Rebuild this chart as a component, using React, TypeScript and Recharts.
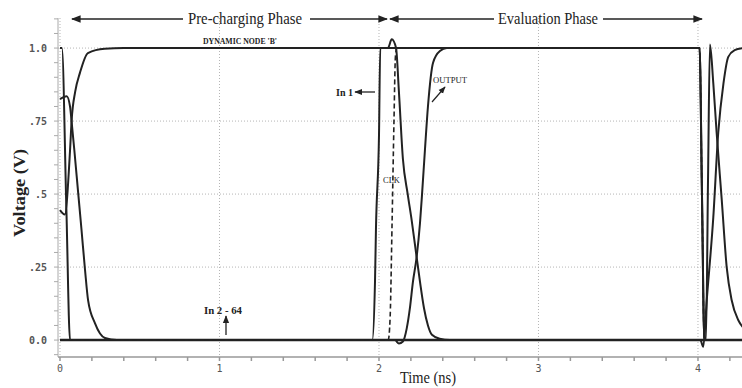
import { LineChart, Line, XAxis, YAxis, CartesianGrid } from "recharts";

// time (ns) and voltage (V)
const in1T = [0, 0.012, 0.04, 0.063, 1.958, 1.975, 1.981, 2.0, 2.008, 4.01, 4.025, 4.04, 4.28];
const in1V = [1.0, 1.0, 0.45, 0, 0, 0.2, 0.38, 0.7, 1.0, 1.0, 0.5, 0, 0];

const clkT = [0, 2.058, 2.07, 2.082, 2.094, 2.103, 2.112, 4.01, 4.025, 4.04, 4.28];
const clkV = [0, 0, 0.08, 0.4, 0.75, 0.97, 1.0, 1.0, 0.5, 0, 0];

const nodeT = [
  0, 0.03, 0.063, 0.073, 0.095, 0.125, 0.175, 0.28, 0.4, 2.056, 2.08, 2.107, 2.125, 2.15,
  2.18, 2.205, 2.232, 2.257, 2.282, 2.307, 2.332, 2.38, 2.445, 4.015, 4.033, 4.055, 4.096,
  4.127, 4.16, 4.19, 4.23, 4.28,
];
const nodeV = [
  0.445, 0.43, 0.65, 0.753, 0.85, 0.915, 0.983, 0.998, 1.0, 1.0, 1.03, 1.0, 0.85, 0.62,
  0.5, 0.41, 0.3, 0.2, 0.11, 0.05, 0.018, 0.005, 0, 0, -0.023, 0.137, 0.42, 0.71, 0.88,
  0.97, 0.993, 1.0,
];

const outT = [
  0, 0.042, 0.063, 0.075, 0.09, 0.113, 0.135, 0.157, 0.176, 0.219, 0.282, 0.357, 2.1, 2.125,
  2.15, 2.174, 2.194, 2.213, 2.236, 2.257, 2.27, 2.288, 2.307, 2.339, 2.382, 2.426, 4.01,
  4.025, 4.04, 4.05, 4.063, 4.075, 4.096, 4.117, 4.149, 4.18, 4.211, 4.253, 4.28,
];
const outV = [
  0.825, 0.835, 0.8, 0.735, 0.65, 0.51, 0.377, 0.24, 0.137, 0.058, 0.007, 0, 0, -0.012,
  -0.005, 0.04, 0.11, 0.2, 0.284, 0.4, 0.5, 0.65, 0.8, 0.95, 0.99, 1.0, 1.0, 0.5, 0, 0,
  0.55, 1.012, 0.88, 0.71, 0.48, 0.25, 0.137, 0.068, 0.045,
];

const restT = [0, 4.28];
const restV = [0, 0];

const xTicks = [0, 0.2, 0.4, 0.6, 0.8, 1, 1.2, 1.4, 1.6, 1.8, 2, 2.2, 2.4, 2.6, 2.8, 3, 3.2, 3.4, 3.6, 3.8, 4, 4.2];
const xLabels = [0, 1, 2, 3, 4];
const yTicks = [-0.05, 0, 0.05, 0.1, 0.15, 0.2, 0.25, 0.3, 0.35, 0.4, 0.45, 0.5, 0.55, 0.6, 0.65, 0.7, 0.75, 0.8, 0.85, 0.9, 0.95, 1, 1.05, 1.1];
const yLabels = [0, 0.25, 0.5, 0.75, 1];
const yLabelText = ["0.0", ".25", ".5", ".75", "1.0"];

const pts = (t: number[], v: number[]) => t.map((x, i) => ({ t: x, v: v[i] }));

const INK = "#222";
const SERIF = "'Liberation Serif', 'Times New Roman', serif";
const MONO = "'DejaVu Sans Mono', monospace";

function XTick(props: any) {
  const { x, y, payload } = props;
  if (!xLabels.includes(payload.value)) return <g />;
  return (
    <text x={x} y={y + 9} textAnchor="middle" fontSize={10} fontFamily={MONO} fill="#555">
      {payload.value}
    </text>
  );
}

function YTick(props: any) {
  const { x, y, payload } = props;
  const i = yLabels.indexOf(payload.value);
  if (i < 0) return <g />;
  return (
    <text x={x} y={y + 4} textAnchor="end" fontSize={10} fontWeight="bold" fontFamily={MONO} fill="#555">
      {yLabelText[i]}
    </text>
  );
}

export default function App() {
  const line = { type: "monotone" as const, dataKey: "v", dot: false, isAnimationActive: false, stroke: INK };
  return (
    <div style={{ position: "absolute", left: 0, top: 0, width: 742, height: 388, background: "#fff" }}>
      <LineChart width={742} height={388} margin={{ top: 18, right: 0, left: 0, bottom: 0 }}>
        <CartesianGrid
          stroke="#b5b5b5"
          strokeDasharray="1 2"
          horizontalValues={yLabels}
          verticalValues={xLabels}
        />
        <XAxis
          type="number"
          dataKey="t"
          domain={[-0.0125, 4.276]}
          ticks={xTicks}
          interval={0}
          allowDataOverflow
          height={31}
          tickSize={4}
          tickMargin={2}
          stroke="#999"
          strokeWidth={1.5}
          tick={<XTick />}
        />
        <YAxis
          type="number"
          domain={[-0.058, 1.103]}
          ticks={yTicks}
          interval={0}
          allowDataOverflow
          width={58}
          tickSize={4}
          tickMargin={7}
          stroke="#aaa"
          tick={<YTick />}
        />
        <Line {...line} data={pts(restT, restV)} strokeWidth={2.5} />
        <Line {...line} data={pts(in1T, in1V)} strokeWidth={2} />
        <Line {...line} data={pts(nodeT, nodeV)} strokeWidth={2} />
        <Line {...line} data={pts(outT, outV)} strokeWidth={2} />
        <Line {...line} data={pts(clkT, clkV)} strokeWidth={1.6} strokeDasharray="5 3" />
      </LineChart>

      <svg
        width={742}
        height={388}
        style={{ position: "absolute", left: 0, top: 0, pointerEvents: "none" }}
      >
        <defs>
          <marker id="ah" viewBox="0 0 10 10" refX="9" refY="5" markerWidth="6" markerHeight="6" orient="auto-start-reverse">
            <path d="M0,1 L10,5 L0,9 z" fill={INK} />
          </marker>
        </defs>
        <g stroke={INK} strokeWidth={1.6}>
          <line x1={183} y1={19} x2={72} y2={19} markerEnd="url(#ah)" />
          <line x1={310} y1={19} x2={387} y2={19} markerEnd="url(#ah)" />
          <line x1={494} y1={19} x2={390} y2={19} markerEnd="url(#ah)" />
          <line x1={603} y1={19} x2={702} y2={19} markerEnd="url(#ah)" />
          <line x1={375} y1={92} x2={355} y2={92} strokeWidth={1.3} markerEnd="url(#ah)" />
          <line x1={432} y1={102} x2={445} y2={87} strokeWidth={1.2} markerEnd="url(#ah)" />
          <line x1={226} y1={335} x2={226} y2={316} strokeWidth={1.3} markerEnd="url(#ah)" />
        </g>
        <g fontFamily={SERIF} fill={INK}>
          <text x={188} y={24} fontSize={17} textLength={114} lengthAdjust="spacingAndGlyphs">
            Pre-charging Phase
          </text>
          <text x={498} y={24} fontSize={17} textLength={100} lengthAdjust="spacingAndGlyphs">
            Evaluation Phase
          </text>
          <text x={203} y={44} fontSize={9} fontWeight="bold" textLength={74} lengthAdjust="spacingAndGlyphs">
            DYNAMIC NODE 'B'
          </text>
          <text x={336} y={96} fontSize={11} fontWeight="bold" textLength={17} lengthAdjust="spacingAndGlyphs">
            In 1
          </text>
          <text x={433} y={83} fontSize={9} textLength={34} lengthAdjust="spacingAndGlyphs">
            OUTPUT
          </text>
          <text x={383} y={183} fontSize={9} textLength={17} lengthAdjust="spacingAndGlyphs">
            CLK
          </text>
          <text x={204} y={314} fontSize={11} fontWeight="bold" textLength={38} lengthAdjust="spacingAndGlyphs">
            In 2 - 64
          </text>
          <text x={400} y={383} fontSize={17} textLength={56} lengthAdjust="spacingAndGlyphs">
            Time (ns)
          </text>
          <text
            x={0}
            y={0}
            fontSize={16}
            fontWeight="bold"
            textAnchor="middle"
            textLength={88}
            lengthAdjust="spacingAndGlyphs"
            transform="translate(25,193) rotate(-90)"
          >
            Voltage (V)
          </text>
        </g>
      </svg>
    </div>
  );
}
